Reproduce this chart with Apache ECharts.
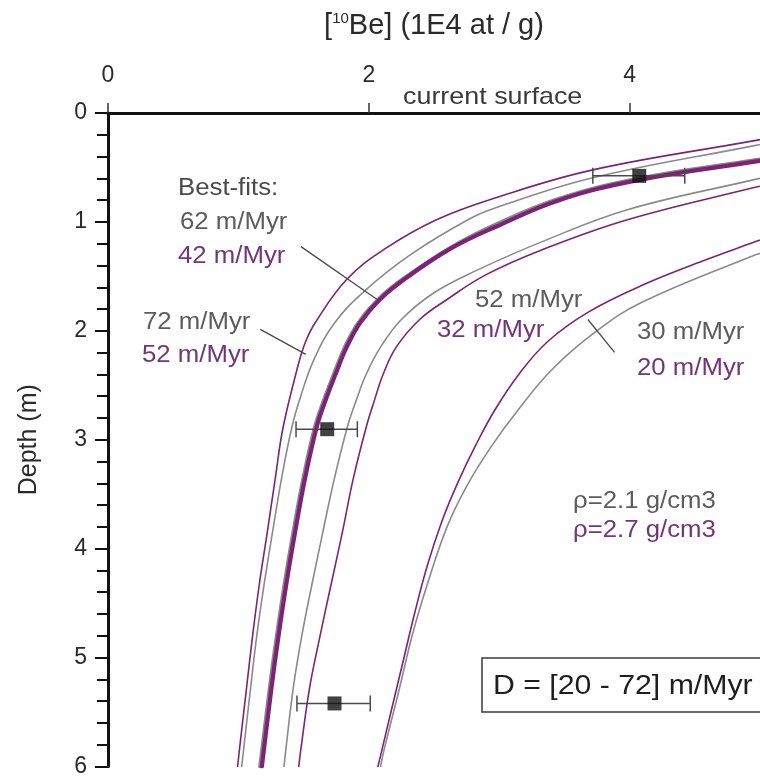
<!DOCTYPE html>
<html>
<head>
<meta charset="utf-8">
<script src="https://cdn.jsdelivr.net/npm/echarts@6/dist/echarts.min.js"></script>
<style>
  html, body { margin: 0; padding: 0; background: #ffffff; }
  #chart { width: 760px; height: 778px; }
</style>
</head>
<body>
<div id="chart"></div>
<script>
// 10Be concentration (1E4 at/g) versus depth (m) profiles: [concentration, depth]
const prof52_27 = [[5.06,0.23],[4.947,0.256],[3.718,0.522],[2.974,0.778],[2.519,0.98],[2.12,1.25],[1.83,1.529],[1.59,1.923],[1.515,2.1],[1.46,2.307],[1.343,2.885],[1.282,3.361],[1.222,3.846],[1.161,4.322],[1.108,4.808],[1.062,5.284],[1.009,5.833],[0.994,6.0]];
const prof72_21 = [[5.06,0.275],[4.947,0.302],[3.718,0.595],[2.974,0.87],[2.76,0.98],[2.32,1.3],[1.98,1.621],[1.74,1.923],[1.58,2.262],[1.478,2.6],[1.41,2.885],[1.33,3.361],[1.262,3.846],[1.198,4.322],[1.14,4.808],[1.093,5.284],[1.041,5.833],[1.025,6.0]];
const prof62_21 = [[5.06,0.415],[4.947,0.434],[4.074,0.599],[3.46,0.785],[2.96,1.03],[2.605,1.25],[2.255,1.529],[2.07,1.712],[1.92,1.923],[1.815,2.15],[1.73,2.399],[1.65,2.65],[1.585,2.885],[1.495,3.361],[1.42,3.846],[1.353,4.322],[1.292,4.808],[1.238,5.284],[1.182,5.833],[1.165,6.0]];
const prof42_27 = [[5.06,0.43],[4.947,0.449],[4.074,0.614],[3.46,0.8],[2.974,1.044],[2.62,1.25],[2.27,1.529],[2.085,1.712],[1.935,1.923],[1.83,2.15],[1.745,2.399],[1.665,2.65],[1.6,2.885],[1.51,3.361],[1.435,3.846],[1.368,4.322],[1.307,4.808],[1.253,5.284],[1.197,5.833],[1.18,6.0]];
const prof52_21 = [[5.06,0.585],[4.947,0.614],[3.983,0.888],[3.33,1.181],[2.84,1.438],[2.5,1.65],[2.25,1.896],[2.09,2.15],[1.98,2.399],[1.9,2.65],[1.835,2.885],[1.735,3.361],[1.648,3.846],[1.565,4.322],[1.485,4.808],[1.42,5.284],[1.365,5.833],[1.35,6.0]];
const prof32_27 = [[5.06,0.66],[4.947,0.687],[3.983,0.98],[3.33,1.255],[2.9,1.484],[2.6,1.712],[2.39,1.896],[2.21,2.15],[2.11,2.399],[2.04,2.65],[1.98,2.885],[1.88,3.361],[1.798,3.846],[1.712,4.322],[1.625,4.808],[1.545,5.284],[1.48,5.833],[1.463,6.0]];
const prof30_21 = [[5.06,1.27],[4.947,1.31],[4.09,1.74],[3.733,2.015],[3.407,2.353],[3.149,2.72],[2.936,3.068],[2.747,3.434],[2.6,3.8],[2.45,4.322],[2.33,4.808],[2.235,5.284],[2.12,5.833],[2.09,6.0]];
const prof20_27 = [[5.06,1.14],[4.947,1.19],[4.59,1.346],[4.1,1.58],[3.68,1.83],[3.37,2.1],[3.15,2.4],[2.97,2.72],[2.82,3.05],[2.68,3.4],[2.56,3.75],[2.45,4.15],[2.35,4.6],[2.26,5.05],[2.17,5.5],[2.09,5.9],[2.07,6.0]];

// Measured samples: concentration, depth, error bar low / high
const obsConc  = [4.074, 1.681, 1.737];
const obsDepth = [0.577, 2.903, 5.421];
const obsLow   = [3.718, 1.442, 1.449];
const obsHigh  = [4.423, 1.912, 2.011];

// Leader lines from the rate labels to their curves: [concentration, depth]
const leaderBest = [[1.480,1.227],[2.064,1.712]];
const leader72   = [[1.168,1.987],[1.517,2.216]];
const leader30   = [[3.680,1.896],[3.885,2.198]];

// Axis ticks
const concTicks  = [0, 2, 4];
const depthTicks = [0, 1, 2, 3, 4, 5, 6];

const FONT = '"Liberation Sans", Arial, Helvetica, sans-serif';
const PURPLE = '#7e2277';
const GRAY = '#8a8a8a';
const TEXT_GRAY = '#5c5c5c';
const TEXT_PURPLE = '#73357a';
const SX = 1.12;

const chart = echarts.init(document.getElementById('chart'), null, { renderer: 'canvas' });

function curve(name, data, color, width, z) {
  return {
    name, type: 'line', data, showSymbol: false, symbol: 'none',
    smooth: 0.4, z, silent: true,
    lineStyle: { color, width, cap: 'round', join: 'round' }
  };
}
function leader(data) {
  return {
    type: 'line', data, showSymbol: false, symbol: 'none', z: 6, silent: true,
    lineStyle: { color: '#4a4a4a', width: 1.3 }
  };
}
function label(text, left, midY, size, color) {
  return {
    type: 'text', x: left, y: midY, scaleX: SX, z: 50,
    style: { text, x: 0, y: 0, fontSize: size, fontFamily: FONT, fill: color, align: 'left', verticalAlign: 'middle' }
  };
}

const obsData = obsConc.map((c, i) => [c, obsDepth[i], obsLow[i], obsHigh[i]]);

const option = {
  backgroundColor: '#ffffff',
  animation: false,
  grid: { left: 108, top: 113, width: 660, height: 655, containLabel: false },
  xAxis: {
    type: 'value', position: 'top', min: 0, max: 5, interval: 2,
    name: '[{sup|10}Be] (1E4 at / g)',
    nameLocation: 'middle', nameGap: 72,
    nameTextStyle: {
      fontSize: 29, fontFamily: FONT, color: '#2a2a2a',
      rich: { sup: { fontSize: 15, fontFamily: FONT, color: '#2a2a2a', verticalAlign: 'top', lineHeight: 30 } }
    },
    axisLine: { show: true, onZero: false, lineStyle: { color: '#111', width: 3 } },
    axisTick: { show: true, inside: false, length: 10, customValues: concTicks, lineStyle: { color: '#333', width: 1.5 } },
    axisLabel: { show: true, margin: 26, fontSize: 23, fontFamily: FONT, color: '#2a2a2a', customValues: concTicks },
    splitLine: { show: false }
  },
  yAxis: {
    type: 'value', inverse: true, min: 0, max: 6, interval: 1,
    name: 'Depth (m)', nameLocation: 'middle', nameGap: 66, nameRotate: 90,
    nameTextStyle: { fontSize: 25, fontFamily: FONT, color: '#2a2a2a' },
    axisLine: { show: true, onZero: false, lineStyle: { color: '#111', width: 3 } },
    axisTick: { show: true, inside: false, length: 13, customValues: depthTicks, lineStyle: { color: '#111', width: 2 } },
    minorTick: { show: true, splitNumber: 5, length: 11, lineStyle: { color: '#111', width: 2 } },
    axisLabel: { show: true, margin: 21, fontSize: 23, fontFamily: FONT, color: '#2a2a2a' },
    splitLine: { show: false }
  },
  series: [
    curve('72 m/Myr, 2.1 g/cm3', prof72_21, GRAY, 1.6, 2),
    curve('52 m/Myr, 2.1 g/cm3', prof52_21, GRAY, 1.6, 2),
    curve('30 m/Myr, 2.1 g/cm3', prof30_21, GRAY, 1.6, 2),
    curve('62 m/Myr, 2.1 g/cm3', prof62_21, GRAY, 3.5, 3),
    curve('52 m/Myr, 2.7 g/cm3', prof52_27, PURPLE, 1.6, 4),
    curve('32 m/Myr, 2.7 g/cm3', prof32_27, PURPLE, 1.6, 4),
    curve('20 m/Myr, 2.7 g/cm3', prof20_27, PURPLE, 1.6, 4),
    curve('42 m/Myr, 2.7 g/cm3', prof42_27, PURPLE, 4.2, 5),
    leader(leaderBest), leader(leader72), leader(leader30),
    {
      type: 'custom', z: 8, silent: true, data: obsData,
      renderItem: function (params, api) {
        const d = api.value(1);
        const a = api.coord([api.value(2), d]);
        const b = api.coord([api.value(3), d]);
        const cap = 8;
        const st = { stroke: '#4a4a4a', lineWidth: 1.5 };
        return {
          type: 'group', children: [
            { type: 'line', shape: { x1: a[0], y1: a[1], x2: b[0], y2: b[1] }, style: st },
            { type: 'line', shape: { x1: a[0], y1: a[1] - cap, x2: a[0], y2: a[1] + cap }, style: st },
            { type: 'line', shape: { x1: b[0], y1: b[1] - cap, x2: b[0], y2: b[1] + cap }, style: st }
          ]
        };
      }
    },
    {
      type: 'scatter', z: 9, silent: true, symbol: 'rect', symbolSize: 14,
      itemStyle: { color: '#111111' },
      data: obsConc.map((c, i) => [c, obsDepth[i]])
    }
  ],
  graphic: [
    label('current surface', 403, 97, 24, '#3a3a3a'),
    label('Best-fits:', 178, 189, 23, '#4a4a4a'),
    label('62 m/Myr', 180, 223, 23, TEXT_GRAY),
    label('42 m/Myr', 178, 257, 23, TEXT_PURPLE),
    label('72 m/Myr', 143, 323, 23, TEXT_GRAY),
    label('52 m/Myr', 142, 356, 23, TEXT_PURPLE),
    label('52 m/Myr', 475, 301, 23, TEXT_GRAY),
    label('32 m/Myr', 437, 331, 23, TEXT_PURPLE),
    label('30 m/Myr', 637, 333, 23, TEXT_GRAY),
    label('20 m/Myr', 637, 369, 23, TEXT_PURPLE),
    label('ρ=2.1 g/cm3', 573, 502, 23, TEXT_GRAY),
    label('ρ=2.7 g/cm3', 573, 531, 23, TEXT_PURPLE),
    {
      type: 'rect', z: 40,
      shape: { x: 482, y: 658, width: 290, height: 54 },
      style: { fill: '#ffffff', stroke: '#3a3a3a', lineWidth: 1.5 }
    },
    label('D = [20 - 72] m/Myr', 493, 687, 27, '#1e1e1e')
  ]
};

chart.setOption(option);
</script>
</body>
</html>
